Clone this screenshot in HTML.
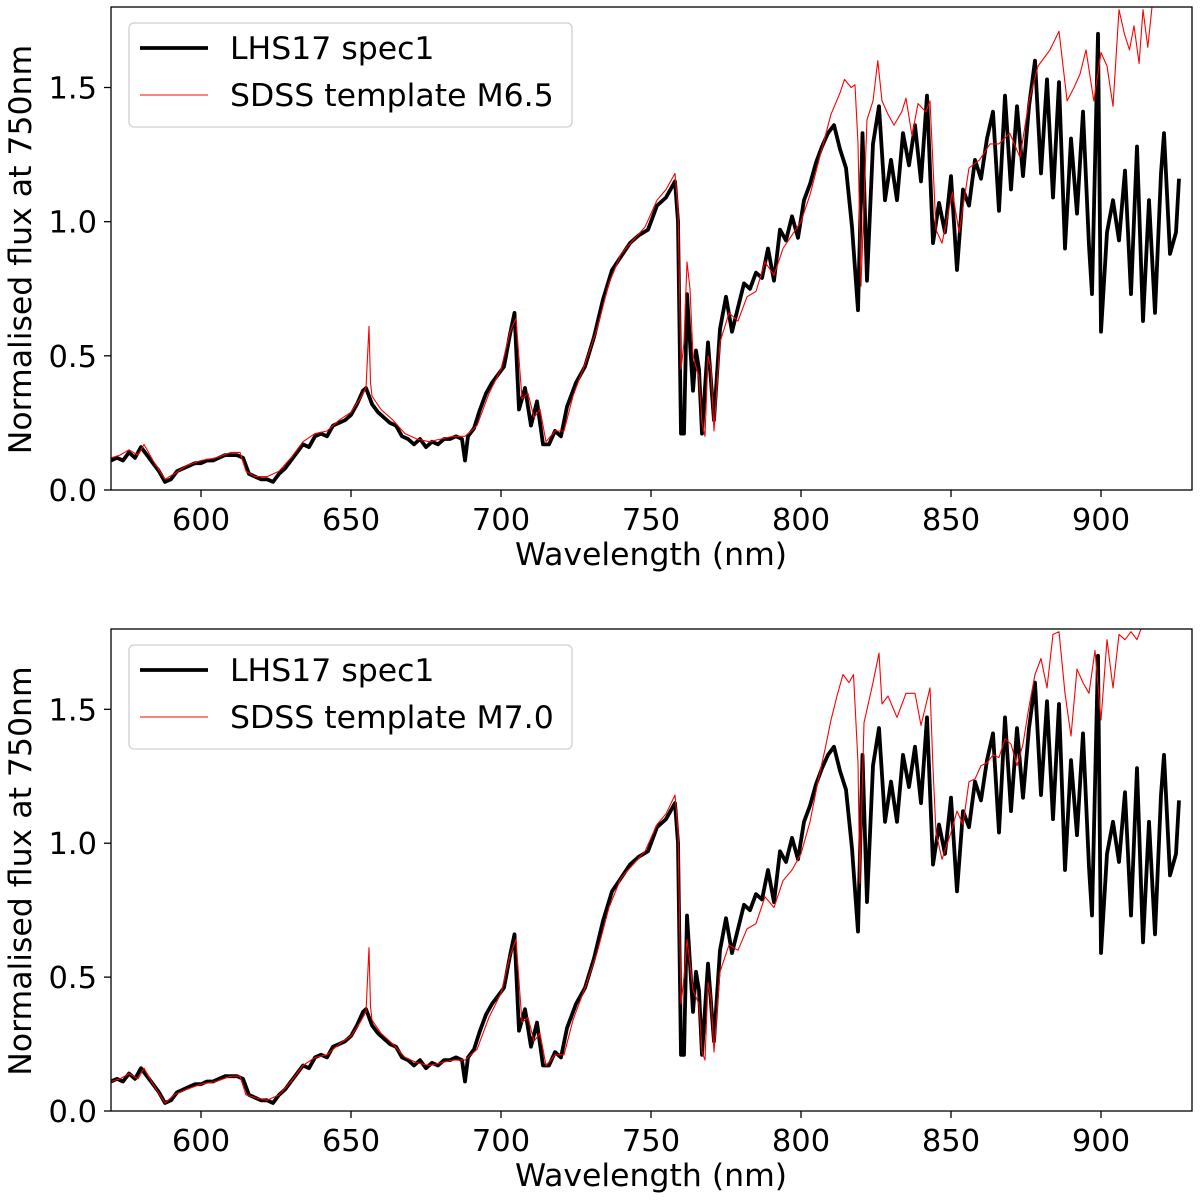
<!DOCTYPE html>
<html><head><meta charset="utf-8"><style>
html,body{margin:0;padding:0;background:#fff;}
svg{display:block;font-family:"DejaVu Sans","Liberation Sans",sans-serif;}
</style></head><body>
<svg id="chart" width="1200" height="1200" viewBox="0 0 1200 1200" xmlns="http://www.w3.org/2000/svg"></svg>
<script>
// observed spectrum LHS17 spec1
const obsWave = [570,572,574,576,578,580,582,584,586,588,590,592,594,596,598,600,602,604,606,608,610,612,614,616,618,620,622,624,626,628,630,632,634,636,638,640,642,644,646,648,650,652,654,655,657,659,661,663,665,667,669,671,673,675,677,679,681,683,685,687,688,689,691,693,695,697,699,701,703,704.5,706,708,710,712,714,716,718,720,722,725,728,731,734,737,740,743,746,749,752,755,757,758,759,760,761,762,764,765,766,767,769,771,773,775,777,779,781,783,785,787,789,791,793,795,797,799,801,803,805,807,809,811,813,815,817,819,820.5,822,824,826,828,830,832,834,836,838,840,842,844,846,848,850,852,854,856,858,860,862,864,866,868,870,872,874,876,878,880,882,884,886,888,890,892,894,896,897,899,900,902,904,906,908,910,912,914,916,918,920,921,923,925,926];
const obsFlux = [.11,.12,.11,.14,.12,.16,.13,.10,.07,.03,.04,.07,.08,.09,.10,.10,.11,.11,.12,.13,.13,.13,.12,.06,.05,.04,.04,.03,.06,.08,.11,.14,.17,.16,.20,.21,.20,.24,.25,.26,.28,.32,.37,.38,.32,.29,.27,.25,.24,.20,.19,.17,.19,.16,.18,.17,.19,.19,.20,.19,.11,.20,.23,.30,.36,.40,.43,.46,.58,.66,.30,.38,.24,.33,.17,.17,.22,.20,.31,.40,.46,.57,.71,.82,.87,.92,.95,.97,1.06,1.09,1.13,1.15,1.0,.21,.21,.73,.37,.52,.45,.21,.55,.26,.60,.72,.59,.68,.77,.75,.81,.79,.90,.78,.97,.93,1.02,.94,1.08,1.14,1.22,1.28,1.33,1.36,1.27,1.20,.98,.67,1.33,.78,1.29,1.43,1.08,1.23,1.08,1.33,1.21,1.36,1.15,1.47,.92,1.07,.96,1.17,.82,1.12,1.06,1.23,1.16,1.31,1.41,1.04,1.47,1.12,1.43,1.17,1.43,1.60,1.18,1.53,1.09,1.52,.90,1.31,1.03,1.41,.91,.73,1.70,.59,.96,1.08,.93,1.19,.73,1.28,.63,1.08,.66,1.18,1.33,.88,.96,1.16];
// SDSS template M6.5
const m65Wave = [570,573,576,579,581,584,588,591,595,600,605,610,613,615,618,622,626,630,634,638,642,646,650,653,655,656,656.5,657,660,664,668,672,676,680,684,688,692,696,700,703,705,707,709,711,713,715,718,721,724,728,732,736,740,744,748,752,755,758,759,760,761,762,763,764,766,767,768,769,770,771,773,776,779,782,785,788,791,794,797,800,803,806.7,810,813,814.5,816.7,818,819,820,822,824,825.6,827,829,831,833.6,835,837,839,841.6,843,845,847,850.5,852.7,856,859.5,863,866,869.6,873,876,879,883,886,888.7,891,893,895,897.6,900,902,904,906,907.8,909.5,911,912.7,914,915.6,917,918.7];
const m65Flux = [.12,.13,.15,.13,.17,.11,.04,.06,.09,.11,.12,.14,.14,.07,.05,.05,.07,.12,.18,.21,.22,.26,.29,.34,.38,.61,.40,.35,.30,.26,.21,.19,.18,.19,.20,.20,.24,.36,.45,.59,.64,.34,.36,.27,.30,.18,.22,.22,.35,.47,.60,.77,.88,.93,.98,1.08,1.12,1.18,1.05,.45,.55,.85,.75,.50,.42,.25,.20,.50,.45,.22,.55,.66,.63,.72,.74,.85,.80,.90,.95,1.00,1.10,1.26,1.40,1.48,1.53,1.50,1.51,1.29,.76,1.38,1.45,1.60,1.45,1.40,1.36,1.41,1.46,1.32,1.44,1.41,1.45,.97,.92,1.11,.96,1.20,1.23,1.29,1.29,1.33,1.24,1.45,1.58,1.64,1.71,1.45,1.50,1.55,1.64,1.45,1.63,1.58,1.43,1.79,1.70,1.64,1.73,1.59,1.79,1.65,1.80,1.82,1.64];
// SDSS template M7.0
const m70Wave = [570,573,576,579,581,584,588,591,595,600,605,610,613,615,618,622,626,630,634,638,642,646,650,653,655,656,656.5,657,660,664,668,672,676,680,684,688,692,696,700,703,705,707,709,711,713,715,718,721,724,728,732,736,740,744,748,752,755,758,759,760,761,762,763,764,766,767,768,769,770,771,773,776,779,782,785,788,791,794,797,800,803,806,808,810,812,814,816,817.5,819,819.6,821,824,826,827,829,832,835,838,840,843,844,845,847,850,852,854,856,858,860,862,864,866,868,870,872,874,876,878,880,882,884,886,888,890,892,894,896,898,900,902,904,906,908,910,912,914,916];
const m70Flux = [.11,.12,.14,.12,.16,.10,.03,.06,.08,.10,.11,.13,.13,.06,.05,.04,.06,.11,.17,.20,.21,.25,.28,.33,.37,.61,.39,.34,.29,.25,.20,.18,.17,.18,.19,.19,.23,.35,.44,.58,.64,.33,.35,.26,.29,.17,.21,.21,.34,.46,.59,.76,.87,.92,.97,1.07,1.11,1.18,1.05,.40,.50,.64,.55,.45,.40,.22,.19,.48,.42,.22,.52,.62,.60,.68,.70,.80,.76,.86,.90,.96,1.08,1.25,1.35,1.46,1.55,1.63,1.60,1.63,1.30,.85,1.45,1.60,1.71,1.52,1.55,1.47,1.56,1.56,1.44,1.58,1.28,1.04,.94,1.04,1.12,1.07,1.23,1.24,1.29,1.30,1.33,1.32,1.39,1.37,1.29,1.37,1.51,1.63,1.69,1.58,1.78,1.79,1.56,1.40,1.65,1.60,1.56,1.72,1.46,1.76,1.58,1.78,1.76,1.79,1.76,1.82,1.80];
const xTicks = [600,650,700,750,800,850,900];
const yTicks = [0.0,0.5,1.0,1.5];
const yTickLabels = ["0.0","0.5","1.0","1.5"];

const NS = "http://www.w3.org/2000/svg";
const svg = document.getElementById("chart");
const X0 = 111, X1 = 1192, XMIN = 570, XMAX = 930.33;
const YMAX = 1.8;
function xs(w){ return X0 + (w - XMIN) / (XMAX - XMIN) * (X1 - X0); }
function mk(tag, attrs, parent){ const e = document.createElementNS(NS, tag); for (const k in attrs) e.setAttribute(k, attrs[k]); (parent||svg).appendChild(e); return e; }

function panel(top, bottom, tw, tf, label, idx){
  const g = mk("g", {});
  
  
  const ys = v => bottom - v / YMAX * (bottom - top);
  const clip = mk("clipPath", {id: "clip" + idx}, g);
  mk("rect", {x: X0, y: top, width: X1 - X0, height: bottom - top}, clip);
  let d = "";
  for (let i = 0; i < tw.length; i++) d += (i ? "L" : "M") + xs(tw[i]).toFixed(1) + "," + ys(tf[i]).toFixed(1);
  const obsD = obsWave.map((w, i) => (i ? "L" : "M") + xs(w).toFixed(1) + "," + ys(obsFlux[i]).toFixed(1)).join("");
  const ob = mk("path", {d: obsD, fill: "none", stroke: "#000", "stroke-width": 3.8, "stroke-linejoin": "round", "clip-path": "url(#clip" + idx + ")"}, g);
  
  
  const tl = mk("path", {d: d, fill: "none", stroke: "#ff0000", "stroke-width": 1.1, "stroke-linejoin": "round", "clip-path": "url(#clip" + idx + ")"}, g);
  
  
  const fr = mk("rect", {x: X0, y: top, width: X1 - X0, height: bottom - top, fill: "none", stroke: "#000", "stroke-width": 1.3}, g);
  
  
  xTicks.forEach(t => {
    const x = xs(t);
    mk("line", {x1: x, x2: x, y1: bottom, y2: bottom + 7, stroke: "#000", "stroke-width": 1.3}, g);
    const tx = mk("text", {x: x, y: bottom + 40, "font-size": 30.5, "text-anchor": "middle", fill: "#000"}, g);
    tx.textContent = t;
    
    
  });
  yTicks.forEach((t, i) => {
    const y = ys(t);
    mk("line", {x1: X0 - 7, x2: X0, y1: y, y2: y, stroke: "#000", "stroke-width": 1.3}, g);
    const tx = mk("text", {x: X0 - 14, y: y + 11, "font-size": 30.5, "text-anchor": "end", fill: "#000"}, g);
    tx.textContent = yTickLabels[i];
    
    
  });
  const xl = mk("text", {x: 651, y: bottom + 75, "font-size": 31.5, "text-anchor": "middle", fill: "#000"}, g);
  xl.textContent = "Wavelength (nm)";
  
  
  const cy = (top + bottom) / 2 + 1;
  const yl = mk("text", {x: 0, y: 0, "font-size": 31.5, "text-anchor": "middle", fill: "#000", transform: "translate(31," + cy + ") rotate(-90)"}, g);
  yl.textContent = "Normalised flux at 750nm";
  
  
  const lg = mk("g", {}, g);
  
  
  mk("rect", {x: 129, y: top + 16, width: 443, height: 104, rx: 5, fill: "#fff", "fill-opacity": 0.85, stroke: "#d0d0d0", "stroke-width": 1.3}, lg);
  mk("line", {x1: 140, x2: 208, y1: top + 41, y2: top + 41, stroke: "#000", "stroke-width": 3.8}, lg);
  mk("line", {x1: 140, x2: 208, y1: top + 88, y2: top + 88, stroke: "#ff0000", "stroke-width": 1.1}, lg);
  const t1 = mk("text", {x: 230, y: top + 52, "font-size": 31.5, fill: "#000"}, lg);
  t1.textContent = "LHS17 spec1";
  
  
  const t2 = mk("text", {x: 230, y: top + 99, "font-size": 31.5, fill: "#000"}, lg);
  t2.textContent = "SDSS template " + label;
  
  
}
panel(7, 490, m65Wave, m65Flux, "M6.5", 1);
panel(629, 1111, m70Wave, m70Flux, "M7.0", 2);
</script>
</body></html>
